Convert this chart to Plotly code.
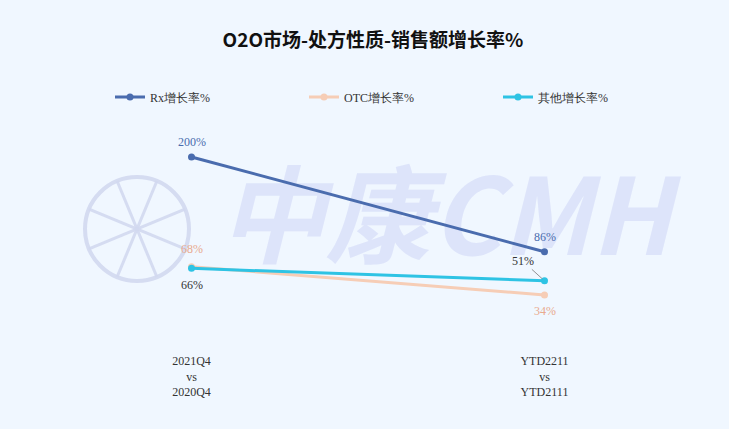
import math
import plotly.graph_objects as go

categories = ["2021Q4<br>vs<br>2020Q4", "YTD2211<br>vs<br>YTD2111"]
rx_growth = [200, 86]
otc_growth = [68, 34]
other_growth = [66, 51]
series_names = ["Rx增长率%", "OTC增长率%", "其他增长率%"]

rx_color = "#4A6CAE"
otc_color = "#F6CDB6"
other_color = "#2EC3E4"
bg = "#F0F7FF"
serif = "Liberation Serif, Times New Roman, serif"
wm = "rgba(210,216,240,0.9)"

fig = go.Figure()

W, H = 729, 429
l, r, t, b = 15, 8, 130, 89
pw, ph = W - l - r, H - t - b
def px(x): return (x - l) / pw
def py(y): return (H - b - y) / ph

# watermark logo (background decoration), on the bottom subplot
cx, cy, rad = 137, 229, 52
fig.add_shape(type="circle", xref="paper", yref="paper",
              x0=px(cx - rad), x1=px(cx + rad), y0=py(cy + rad), y1=py(cy - rad),
              line=dict(color=wm, width=4), layer="below")
for k in range(4):
    a = math.pi / 4 * k + math.pi / 8
    fig.add_shape(type="line", xref="paper", yref="paper",
                  x0=px(cx - rad * math.cos(a)), x1=px(cx + rad * math.cos(a)),
                  y0=py(cy - rad * math.sin(a)), y1=py(cy + rad * math.sin(a)),
                  line=dict(color=wm, width=3), layer="below")
fig.add_trace(go.Scatter(x=[px(445)], y=[py(228)], mode="text", text=["中康CMH"],
                         xaxis="x", yaxis="y", showlegend=False, hoverinfo="skip",
                         textfont=dict(size=106, color="rgba(214,221,248,0.72)",
                                       family="Noto Sans CJK SC", style="italic", weight="bold")))

# data traces on the overlaying axes (drawn above the watermark)
fig.add_trace(go.Scatter(x=categories, y=rx_growth, name=series_names[0], mode="lines+markers",
                         xaxis="x2", yaxis="y2",
                         line=dict(color=rx_color, width=3), marker=dict(size=7, color=rx_color)))
fig.add_trace(go.Scatter(x=categories, y=otc_growth, name=series_names[1], mode="lines+markers",
                         xaxis="x2", yaxis="y2",
                         line=dict(color=otc_color, width=3), marker=dict(size=7, color=otc_color)))
fig.add_trace(go.Scatter(x=categories, y=other_growth, name=series_names[2], mode="lines+markers",
                         xaxis="x2", yaxis="y2",
                         line=dict(color=other_color, width=3), marker=dict(size=7, color=other_color)))

# data labels
def lab(x, y, text, color, dy):
    fig.add_annotation(x=x, y=y, xref="x2", yref="y2", text=text, showarrow=False, yshift=dy,
                       font=dict(family=serif, size=12, color=color))

lab(categories[0], rx_growth[0], f"{rx_growth[0]}%", rx_color, 15)
lab(categories[1], rx_growth[1], f"{rx_growth[1]}%", rx_color, 15)
lab(categories[0], otc_growth[0], f"{otc_growth[0]}%", "#E9AA8E", 18)
lab(categories[1], otc_growth[1], f"{otc_growth[1]}%", "#E9AA8E", -16)
lab(categories[0], other_growth[0], f"{other_growth[0]}%", "#333333", -17)
fig.add_annotation(x=categories[1], y=other_growth[1], xref="x2", yref="y2",
                   text=f"{other_growth[1]}%",
                   showarrow=True, ax=-22, ay=-20, arrowhead=0, arrowwidth=0.8,
                   arrowcolor="#777", standoff=3,
                   font=dict(family=serif, size=12, color="#333333"))

fig.update_layout(
    width=W, height=H,
    paper_bgcolor=bg, plot_bgcolor="rgba(0,0,0,0)",
    margin=dict(l=l, r=r, t=t, b=b),
    title=dict(text="<b>O2O市场-处方性质-销售额增长率%</b>", x=373 / W, xanchor="center",
               y=1 - 40 / H, yanchor="middle",
               font=dict(family="Noto Sans CJK SC", size=19, color="#111111")),
    legend=dict(orientation="h", x=px(110), xanchor="left", y=py(97), yanchor="middle",
                traceorder="normal", entrywidth=149, bgcolor="rgba(0,0,0,0)",
                font=dict(family=serif, size=12, color="#333333")),
    showlegend=True,
    xaxis=dict(range=[0, 1], visible=False, showgrid=False, zeroline=False),
    yaxis=dict(range=[0, 1], visible=False, showgrid=False, zeroline=False),
    xaxis2=dict(type="category", range=[-0.5, 1.5], overlaying="x", side="bottom",
                showgrid=False, zeroline=False, showline=False, ticks="", ticklabelstandoff=12,
                tickfont=dict(family=serif, size=12, color="#333333")),
    yaxis2=dict(range=[-20.2, 232.5], overlaying="y", visible=False, showgrid=False,
                zeroline=False),
)

fig.write_html("out.html", config={"displayModeBar": False},
               post_script="document.body.style.margin='0';document.body.style.background='%s';" % bg)
